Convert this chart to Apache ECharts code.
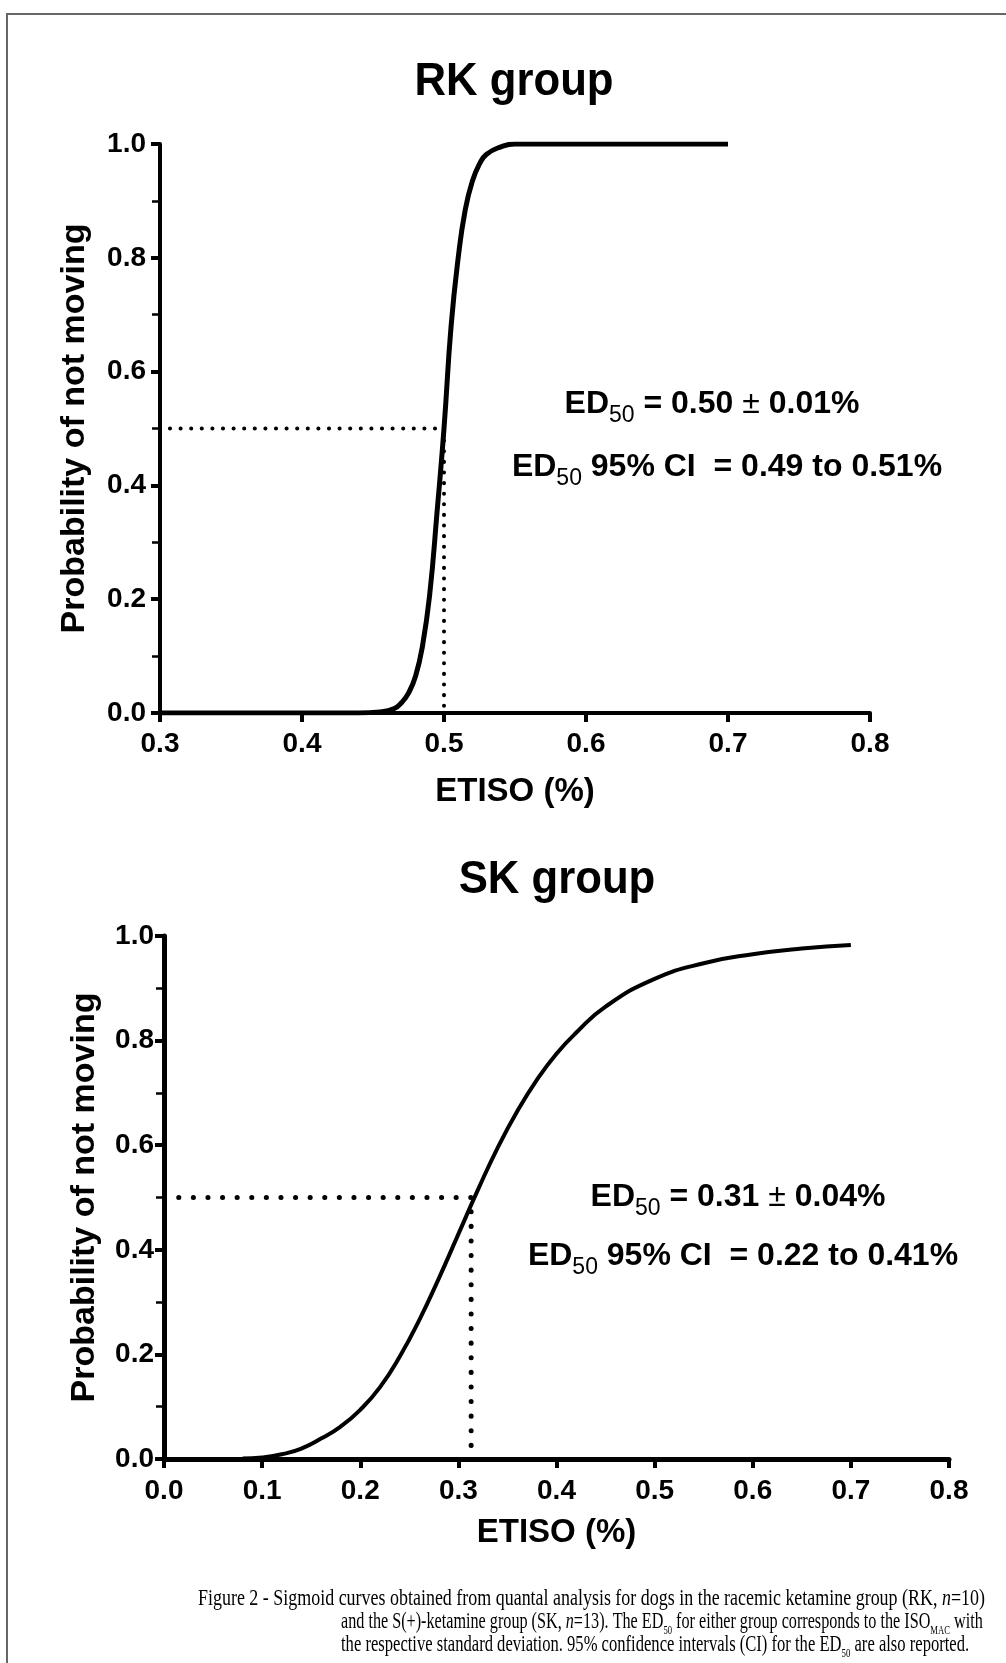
<!DOCTYPE html>
<html>
<head>
<meta charset="utf-8">
<script src="https://cdn.jsdelivr.net/npm/echarts@6/dist/echarts.min.js"></script>
<style>
html,body{margin:0;padding:0;background:#fff;}
#container{width:1006px;height:1663px;}
</style>
</head>
<body>
<div id="container"></div>
<script>
// RK group - fitted sigmoid, ETISO (%) vs probability of not moving
var rkX = [0.30, 0.44, 0.455, 0.465, 0.47, 0.475, 0.48, 0.485, 0.49, 0.495, 0.50, 0.505, 0.51, 0.515, 0.52, 0.525, 0.53, 0.54, 0.55, 0.60, 0.70];
var rkY = [0, 0, 0.002, 0.008, 0.018, 0.035, 0.065, 0.12, 0.21, 0.35, 0.50, 0.68, 0.80, 0.885, 0.935, 0.965, 0.982, 0.995, 1.0, 1.0, 1.0];
// ED50 guide (dotted)
var rkGuideX = [0.307, 0.50, 0.50];
var rkGuideY = [0.5, 0.5, 0];

// SK group
var skX = [0.08, 0.10, 0.12, 0.14, 0.16, 0.18, 0.20, 0.22, 0.24, 0.26, 0.28, 0.30, 0.32, 0.34, 0.36, 0.38, 0.40, 0.42, 0.45, 0.50, 0.55, 0.60, 0.65, 0.70];
var skY = [0.001, 0.003, 0.009, 0.02, 0.039, 0.062, 0.094, 0.137, 0.195, 0.265, 0.345, 0.43, 0.515, 0.595, 0.665, 0.725, 0.775, 0.815, 0.865, 0.918, 0.948, 0.965, 0.976, 0.983];
var skGuideX = [0.015, 0.313, 0.313];
var skGuideY = [0.5, 0.5, 0];

var titles = ['RK group', 'SK group'];
var xName = 'ETISO (%)';
var yName = 'Probability of not moving';

function pairs(xs, ys){
	var out = [];
	for(var i=0;i<xs.length;i++){
		out.push([xs[i], ys[i]]);
	}
	return out;
}

var FONT = 'Liberation Sans, Arial, sans-serif';
var SERIF = 'Liberation Serif, Times New Roman, serif';

function xAxisOf(grid, min, w, margin, gap){
	return {
		type:'value', gridIndex:grid, min:min, max:0.8, interval:0.1,
		name:xName, nameLocation:'middle', nameGap:gap,
		nameTextStyle:{color:'#000', fontFamily:FONT, fontWeight:'bold', fontSize:33},
		axisLine:{show:true, onZero:false, lineStyle:{color:'#000', width:w}},
		axisTick:{show:true, length:9, lineStyle:{color:'#000', width:4}},
		axisLabel:{color:'#000', fontFamily:FONT, fontWeight:'bold', fontSize:28, margin:margin,
			formatter:function(v){ return v.toFixed(1); }},
		splitLine:{show:false}
	};
}
function yAxisOf(grid, w, margin, gap){
	return {
		type:'value', gridIndex:grid, min:0, max:1, interval:0.2,
		name:yName, nameLocation:'middle', nameGap:gap,
		nameTextStyle:{color:'#000', fontFamily:FONT, fontWeight:'bold', fontSize:34},
		axisLine:{show:true, onZero:false, lineStyle:{color:'#000', width:w}},
		axisTick:{show:true, length:9, lineStyle:{color:'#000', width:4}},
		minorTick:{show:true, splitNumber:2, length:8, lineStyle:{color:'#000', width:2.5}},
		axisLabel:{color:'#000', fontFamily:FONT, fontWeight:'bold', fontSize:28, margin:margin,
			formatter:function(v){ return v.toFixed(1); }},
		splitLine:{show:false}, minorSplitLine:{show:false}
	};
}

var boldTxt = {fontFamily:FONT, fontWeight:'bold', fontSize:32, fill:'#000', verticalAlign:'bottom', padding:[0,0,7,0]};
var subTxt = {fontFamily:FONT, fontWeight:'normal', fontSize:23, fill:'#000', verticalAlign:'bottom'};
var pmTxt = {fontFamily:FONT, fontWeight:'normal', fontSize:32, fill:'#000', verticalAlign:'bottom', padding:[0,0,7,0]};
var annRich = {b:boldTxt, s:subTxt, p:pmTxt};

var capRich = {
	c:{fontFamily:SERIF, fontSize:22.5, fill:'#000', verticalAlign:'bottom', padding:[0,0,3,0]},
	i:{fontFamily:SERIF, fontStyle:'italic', fontSize:22.5, fill:'#000', verticalAlign:'bottom', padding:[0,0,3,0]},
	s:{fontFamily:SERIF, fontSize:12, fill:'#000', verticalAlign:'bottom'}
};

function annot(x, y, txt){
	return {type:'text', x:x, y:y, style:{text:txt, rich:annRich, align:'center', verticalAlign:'middle'}};
}
function capLine(x, y, sx, txt){
	return {type:'text', x:x, y:y, scaleX:sx, style:{text:txt, rich:capRich, align:'left', verticalAlign:'middle'}};
}

var option = {
	animation:false,
	backgroundColor:'#fff',
	grid:[
		{left:160, top:144, width:710, height:569, outerBoundsMode:'none'},
		{left:164, top:936, width:785, height:523, outerBoundsMode:'none'}
	],
	xAxis:[ xAxisOf(0, 0.3, 4, 17, 62), xAxisOf(1, 0, 5, 18, 57) ],
	yAxis:[ yAxisOf(0, 4, 14, 68), yAxisOf(1, 5, 10, 62) ],
	series:[
		{type:'line', xAxisIndex:0, yAxisIndex:0, data:pairs(rkGuideX, rkGuideY), showSymbol:false, silent:true,
			lineStyle:{color:'#000', width:4, type:[0.1, 10.5], cap:'round'}, z:1},
		{type:'line', xAxisIndex:0, yAxisIndex:0, data:pairs(rkX, rkY), showSymbol:false, smooth:0.5,
			lineStyle:{color:'#000', width:5}, z:3},
		{type:'line', xAxisIndex:1, yAxisIndex:1, data:pairs(skGuideX, skGuideY), showSymbol:false, silent:true,
			lineStyle:{color:'#000', width:5, type:[0.1, 14.5], cap:'round'}, z:1},
		{type:'line', xAxisIndex:1, yAxisIndex:1, data:pairs(skX, skY), showSymbol:false, smooth:0.5,
			lineStyle:{color:'#000', width:4}, z:3}
	],
	graphic:[
		{type:'rect', shape:{x:7, y:14, width:1020, height:1680}, style:{fill:'none', stroke:'#666', lineWidth:2}, silent:true},
		{type:'text', x:514, y:82, scaleX:0.95, style:{text:titles[0], font:'bold 46px ' + FONT, fill:'#000', align:'center', verticalAlign:'middle'}},
		{type:'text', x:557, y:880, scaleX:0.95, style:{text:titles[1], font:'bold 46px ' + FONT, fill:'#000', align:'center', verticalAlign:'middle'}},
		annot(712, 408, '{b|ED}{s|50}{b| = 0.50 }{p|±}{b| 0.01%}'),
		annot(727, 471, '{b|ED}{s|50}{b| 95% CI  = 0.49 to 0.51%}'),
		annot(738, 1201, '{b|ED}{s|50}{b| = 0.31 }{p|±}{b| 0.04%}'),
		annot(743, 1260, '{b|ED}{s|50}{b| 95% CI  = 0.22 to 0.41%}'),
		capLine(198, 1601, 0.798, '{c|Figure 2 - Sigmoid curves obtained from quantal analysis for dogs in the racemic ketamine group (RK, }{i|n}{c|=10)}'),
		capLine(341, 1624, 0.719, '{c|and the S(+)-ketamine group (SK, }{i|n}{c|=13). The ED}{s|50}{c| for either group corresponds to the ISO}{s|MAC}{c| with}'),
		capLine(341, 1647, 0.737, '{c|the respective standard deviation. 95% confidence intervals (CI) for the ED}{s|50}{c| are also reported.}')
	]
};

var mychart = echarts.init(document.getElementById('container'), null, {renderer:'canvas'});
mychart.setOption(option);
</script>
</body>
</html>
